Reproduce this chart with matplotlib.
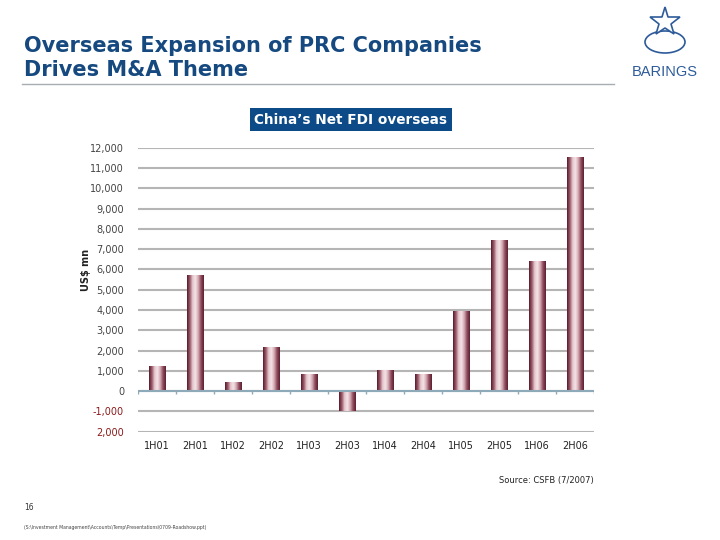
import numpy as np
import matplotlib.pyplot as plt
from matplotlib.colors import LinearSegmentedColormap
from matplotlib.lines import Line2D
from matplotlib.patches import Ellipse

# dados (US$ mn)
periodos = ['1H01', '2H01', '1H02', '2H02', '1H03', '2H03',
            '1H04', '2H04', '1H05', '2H05', '1H06', '2H06']
fdi = [1200, 5700, 430, 2150, 820, -1000, 1000, 820, 3900, 7400, 6380, 11500]
yticks = [-2000, -1000, 0, 1000, 2000, 3000, 4000, 5000, 6000,
          7000, 8000, 9000, 10000, 11000, 12000]
ylabels = ['2,000', '-1,000', '0', '1,000', '2,000', '3,000', '4,000', '5,000',
           '6,000', '7,000', '8,000', '9,000', '10,000', '11,000', '12,000']

azul = '#15497f'
fig = plt.figure(figsize=(7.2, 5.4), dpi=100)

# titulo e cabecalho
fig.text(24/720, 1-36/540, 'Overseas Expansion of PRC Companies\nDrives M&A Theme',
         va='top', ha='left', fontsize=15, fontweight='bold', color=azul, linespacing=1.22)
fig.add_artist(Line2D([22/720, 614/720], [1-84/540, 1-84/540], color='#a7adb3', lw=1))

# logo (aproximado)
fig.add_artist(Line2D([665/720], [1-22/540], marker='*', markersize=22,
                      markerfacecolor='white', markeredgecolor='#2d5b9a', mew=1.2))
fig.add_artist(Ellipse((665/720, 1-42/540), 40/720, 22/540, fill=False, ec='#2d5b9a', lw=1.2))
fig.text(665/720, 1-72/540, 'BARINGS', ha='center', va='center', fontsize=10.5,
         color='#2d5b9a', family='Liberation Sans')

fig.text(351/720, 1-119.5/540, 'China\u2019s Net FDI overseas', ha='center', va='center',
         fontsize=9.8, fontweight='bold', color='white',
         bbox=dict(boxstyle='square,pad=0.33', fc='#0c4a88', ec='none'))

# grafico de barras
ax = fig.add_axes([138/720, 1-431.7/540, 456/720, 284/540])
x = np.arange(len(periodos))
barras = ax.bar(x, fdi, width=0.43, color='none', edgecolor='none', zorder=3)

cmap = LinearSegmentedColormap.from_list('cil', ['#5a1a2c', '#9a5a6a', '#e6c8cf', '#f4e4e7',
                                                  '#d4a9b3', '#8e4c5d', '#5e1f31'])
grad = np.linspace(0, 1, 64).reshape(1, -1)
for b in barras:
    x0, w = b.get_x(), b.get_width()
    y0, y1 = sorted([b.get_y(), b.get_y() + b.get_height()])
    ax.imshow(grad, cmap=cmap, extent=[x0, x0 + w, y0, y1], aspect='auto', zorder=3)

ax.set_xlim(-0.5, 11.5)
ax.set_ylim(-2000, 12000)
ax.set_yticks(yticks)
ax.set_yticklabels(ylabels)
for lbl, v in zip(ax.get_yticklabels(), yticks):
    lbl.set_color('#8b1a1a' if v < 0 else '#444444')
ax.yaxis.grid(True, color='#b5b5b5', lw=1.5, zorder=0)
ax.set_axisbelow(True)
ax.axhline(0, color='#8eaab8', lw=1.5, zorder=4)
ax.vlines(np.arange(-0.5, 12), -150, 0, color='#8eaab8', lw=1, zorder=4)

ax.set_xticks(x)
ax.set_xticklabels(periodos)
ax.tick_params(axis='x', length=0, pad=7, labelsize=7, labelcolor='#222222')
ax.tick_params(axis='y', length=0, pad=10, labelsize=7)
for s in ax.spines.values():
    s.set_visible(False)

fig.text(86/720, 1-270/540, 'US$ mn', rotation=90, ha='center', va='center',
         fontsize=7, fontweight='bold', color='#222222')

# rodape
fig.text(594/720, 1-480/540, 'Source: CSFB (7/2007)', ha='right', va='center', fontsize=6, color='#222222')
fig.text(24/720, 1-507/540, '16', ha='left', va='center', fontsize=5.5, color='#333333')
fig.text(24/720, 1-527/540,
         '(S:\\Investment Management\\Accounts\\Temp\\Presentations\\0709-Roadshow.ppt)',
         ha='left', va='center', fontsize=3.3, color='#444444')

fig.savefig('out.png', dpi=100)
